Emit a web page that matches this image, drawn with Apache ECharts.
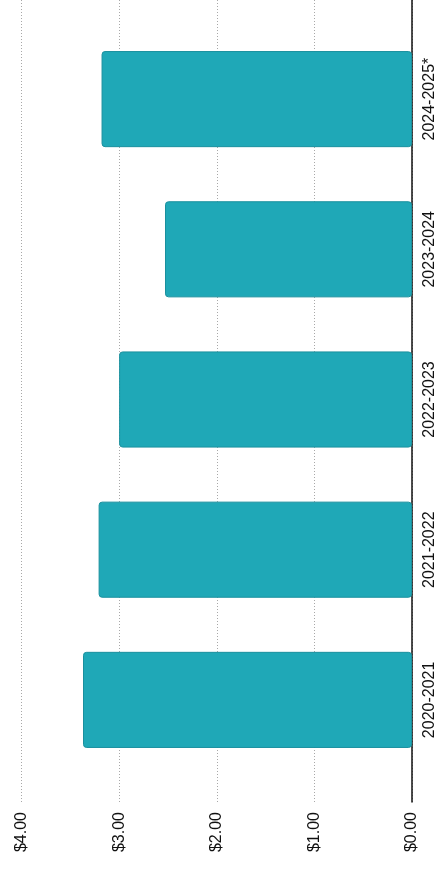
<!DOCTYPE html>
<html>
<head>
<meta charset="utf-8">
<script src="https://cdn.jsdelivr.net/npm/echarts@6/dist/echarts.min.js"></script>
<style>
html,body{margin:0;padding:0;background:#fff;}
#chart{width:446px;height:873px;}
</style>
</head>
<body>
<div id="chart"></div>
<script>
var categories = ['2020-2021', '2021-2022', '2022-2023', '2023-2024', '2024-2025*'];
var values = [3.37, 3.21, 3.00, 2.53, 3.18];
var valueMin = 0;
var valueMax = 4;
var valueStep = 1;

var chart = echarts.init(document.getElementById('chart'));
var font = 'Arial, "Liberation Sans", sans-serif';
chart.setOption({
  animation: false,
  backgroundColor: '#ffffff',
  grid: [
    {left: 21.5, right: 34, top: 0, bottom: 71},
    {left: 21.5, right: 34, top: 24, bottom: 98}
  ],
  xAxis: [
    {
      type: 'value', gridIndex: 0, inverse: true,
      min: valueMin, max: valueMax, interval: valueStep,
      axisLine: {show: false}, axisTick: {show: false},
      splitLine: {show: true, lineStyle: {color: '#a8a8a8', type: [1, 2], width: 1}},
      axisLabel: {
        rotate: 90, margin: 10, color: '#111', fontFamily: font, fontSize: 16,
        formatter: function (v) { return '$' + v.toFixed(2); }
      }
    },
    {
      type: 'value', gridIndex: 1, inverse: true,
      min: valueMin, max: valueMax, interval: valueStep,
      axisLine: {show: false}, axisTick: {show: false},
      splitLine: {show: false}, axisLabel: {show: false}
    }
  ],
  yAxis: [
    {
      type: 'value', gridIndex: 0, position: 'right',
      axisLine: {show: true, lineStyle: {color: '#111', width: 1.5}},
      axisTick: {show: false}, axisLabel: {show: false}, splitLine: {show: false}
    },
    {
      type: 'category', gridIndex: 1, position: 'right', data: categories,
      axisLine: {show: false}, axisTick: {show: false},
      axisLabel: {rotate: 90, margin: 10, color: '#111', fontFamily: font, fontSize: 16}
    }
  ],
  series: [{
    type: 'bar', xAxisIndex: 1, yAxisIndex: 1, data: values,
    barCategoryGap: '36%',
    itemStyle: {color: '#1fa8b7', borderColor: '#1a909e', borderWidth: 1, borderRadius: 3}
  }]
});
</script>
</body>
</html>
